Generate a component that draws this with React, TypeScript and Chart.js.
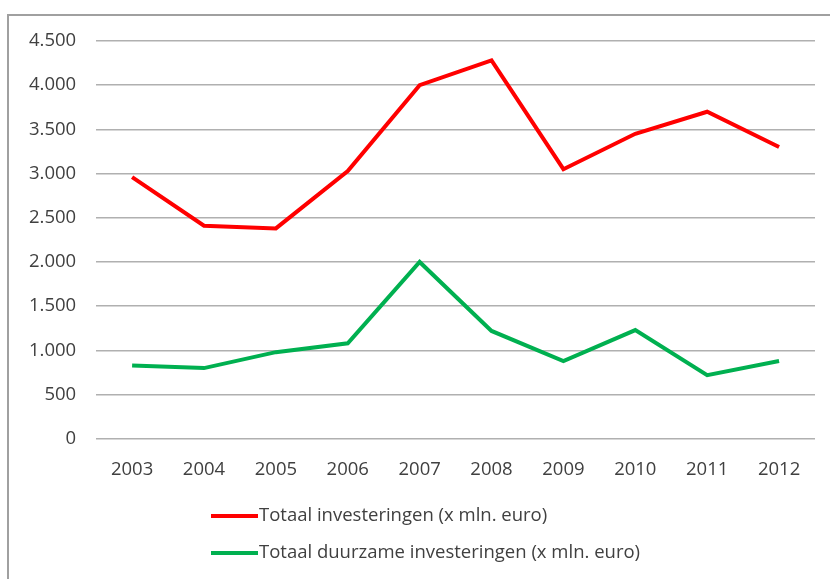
import React, { useEffect, useRef } from "react";
import { Chart, registerables } from "chart.js";

Chart.register(...registerables);

const years = ["2003", "2004", "2005", "2006", "2007", "2008", "2009", "2010", "2011", "2012"];
const totaalInvesteringen = [2960, 2410, 2380, 3030, 4000, 4280, 3050, 3450, 3700, 3300];
const duurzameInvesteringen = [830, 800, 980, 1080, 2000, 1220, 880, 1230, 720, 880];
const seriesLabels = [
  "Totaal investeringen (x mln. euro)",
  "Totaal duurzame investeringen (x mln. euro)",
];
const yMin = 0;
const yMax = 4500;
const yStep = 500;

const FONT = "'Open Sans', sans-serif";
const FONT_SIZE = 18.5;
const TEXT_COLOR = "#404040";

const formatNl = (v: number) =>
  String(Math.round(v)).replace(/\B(?=(\d{3})+(?!\d))/g, ".");

const verticalLegend = {
  id: "verticalLegend",
  afterDraw(chart: any) {
    const ctx = chart.ctx as CanvasRenderingContext2D;
    ctx.save();
    chart.data.datasets.forEach((ds: any, i: number) => {
      const y = 516 + i * 37;
      ctx.strokeStyle = ds.borderColor;
      ctx.lineWidth = 4;
      ctx.beginPath();
      ctx.moveTo(211, y);
      ctx.lineTo(258, y);
      ctx.stroke();
      ctx.fillStyle = TEXT_COLOR;
      ctx.font = `${FONT_SIZE}px ${FONT}`;
      ctx.textBaseline = "middle";
      ctx.textAlign = "left";
      ctx.fillText(ds.label, 259, y);
    });
    ctx.restore();
  },
};

export default function App() {
  const canvasRef = useRef<HTMLCanvasElement | null>(null);

  useEffect(() => {
    if (!canvasRef.current) return;
    const chart = new Chart(canvasRef.current, {
      type: "line",
      data: {
        labels: years,
        datasets: [
          {
            label: seriesLabels[0],
            data: totaalInvesteringen,
            borderColor: "#FF0000",
            backgroundColor: "#FF0000",
            borderWidth: 4,
            pointRadius: 0,
            tension: 0,
          },
          {
            label: seriesLabels[1],
            data: duurzameInvesteringen,
            borderColor: "#00B050",
            backgroundColor: "#00B050",
            borderWidth: 4,
            pointRadius: 0,
            tension: 0,
          },
        ],
      },
      options: {
        animation: false,
        responsive: false,
        maintainAspectRatio: false,
        layout: { padding: { top: 41, left: 9, right: 15, bottom: 78 } },
        plugins: {
          legend: { display: false },
          tooltip: { enabled: false },
        },
        scales: {
          x: {
            offset: true,
            grid: { display: false, drawTicks: false },
            border: { display: false },
            ticks: {
              color: TEXT_COLOR,
              font: { family: FONT, size: FONT_SIZE },
              padding: 20,
              maxRotation: 0,
            },
          },
          y: {
            min: yMin,
            max: yMax,
            grid: { color: "#b0b0b0", lineWidth: 1.5, drawTicks: false },
            border: { display: false },
            ticks: {
              stepSize: yStep,
              color: TEXT_COLOR,
              font: { family: FONT, size: FONT_SIZE },
              padding: 20,
              callback: (v: any) => formatNl(Number(v)),
            },
          },
        },
      },
      plugins: [verticalLegend],
    });
    return () => chart.destroy();
  }, []);

  return (
    <div
      style={{
        position: "fixed",
        left: 0,
        top: 0,
        width: 830,
        height: 579,
        background: "#ffffff",
        overflow: "hidden",
      }}
    >
      <div
        style={{
          position: "absolute",
          left: 7,
          top: 14,
          width: 830,
          height: 600,
          borderTop: "2px solid #a0a0a0",
          borderLeft: "2px solid #a0a0a0",
        }}
      />
      <canvas
        ref={canvasRef}
        width={830}
        height={579}
        style={{ position: "absolute", left: 0, top: 0, width: 830, height: 579 }}
      />
    </div>
  );
}
